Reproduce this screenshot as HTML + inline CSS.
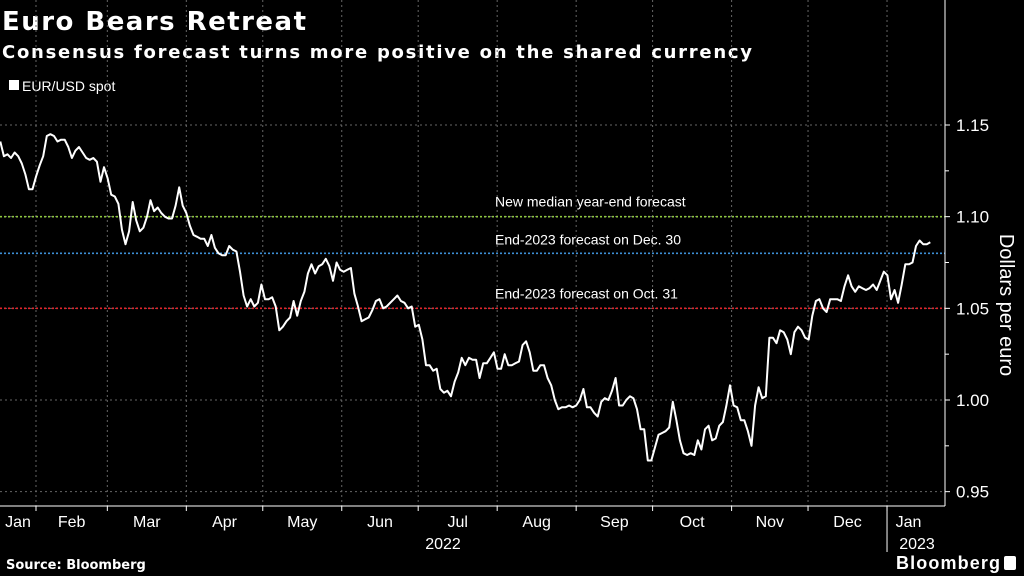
<!DOCTYPE html>
<html><head><meta charset="utf-8"><style>
html,body{margin:0;padding:0;background:#000;}
svg{display:block;font-family:"Liberation Sans",sans-serif;}
</style></head><body>
<svg id="chart" width="1024" height="576" viewBox="0 0 1024 576" xmlns="http://www.w3.org/2000/svg">
<rect x="0" y="0" width="1024" height="576" fill="#000"/>
<text x="2" y="30" fill="#fff" font-family="DejaVu Sans, sans-serif" font-weight="bold" font-size="26" textLength="304">Euro Bears Retreat</text>
<text x="2" y="58" fill="#fff" font-family="DejaVu Sans, sans-serif" font-weight="bold" font-size="18" textLength="750">Consensus forecast turns more positive on the shared currency</text>
<g>
<rect x="9" y="80" width="10" height="10" fill="#fff"/>
<text x="22" y="91" fill="#fff" font-size="14">EUR/USD spot</text>
</g>
<g id="grid"></g>
<g id="refs"></g>
<g id="series"></g>
<g id="axes"></g>
<text transform="translate(1000,305) rotate(90)" text-anchor="middle" fill="#fff" font-size="20">Dollars per euro</text>
<text x="6" y="569" fill="#fff" font-family="DejaVu Sans, sans-serif" font-weight="bold" font-size="13">Source: Bloomberg</text>
<text x="1000" y="569" text-anchor="end" fill="#fff" font-weight="bold" font-size="18" textLength="104">Bloomberg</text>
<rect x="1004" y="556" width="12" height="14" rx="2" fill="#fff"/>
</svg>
<script>
const values = [1.141,1.133,1.134,1.132,1.135,1.133,1.129,1.123,1.115,1.115,1.122,1.128,1.133,1.144,1.145,1.144,1.141,1.142,1.142,1.138,1.132,1.136,1.138,1.135,1.132,1.131,1.132,1.130,1.119,1.127,1.121,1.112,1.111,1.107,1.093,1.085,1.092,1.108,1.098,1.092,1.094,1.100,1.109,1.103,1.105,1.102,1.100,1.099,1.099,1.106,1.116,1.106,1.102,1.095,1.090,1.089,1.088,1.088,1.084,1.090,1.083,1.080,1.079,1.079,1.084,1.082,1.081,1.070,1.057,1.051,1.055,1.051,1.053,1.063,1.055,1.055,1.056,1.051,1.038,1.040,1.043,1.045,1.054,1.046,1.054,1.059,1.069,1.074,1.069,1.073,1.074,1.077,1.073,1.065,1.075,1.071,1.070,1.071,1.072,1.058,1.051,1.043,1.044,1.045,1.049,1.054,1.055,1.050,1.051,1.053,1.055,1.057,1.054,1.053,1.050,1.051,1.040,1.041,1.033,1.019,1.019,1.016,1.017,1.006,1.004,1.005,1.002,1.010,1.015,1.023,1.019,1.023,1.022,1.022,1.012,1.020,1.020,1.023,1.026,1.017,1.017,1.025,1.019,1.019,1.020,1.021,1.030,1.032,1.026,1.016,1.016,1.019,1.019,1.012,1.008,1.000,0.995,0.996,0.996,0.997,0.996,0.997,1.000,1.006,0.996,0.996,0.993,0.991,0.999,1.001,1.000,1.005,1.012,0.997,0.997,1.000,1.002,1.001,0.995,0.984,0.984,0.967,0.967,0.974,0.981,0.982,0.983,0.985,0.999,0.989,0.978,0.971,0.970,0.971,0.970,0.978,0.973,0.984,0.986,0.978,0.979,0.986,0.988,0.997,1.008,0.997,0.996,0.989,0.989,0.983,0.975,0.997,1.007,1.001,1.002,1.034,1.034,1.031,1.038,1.037,1.033,1.025,1.037,1.040,1.038,1.034,1.033,1.046,1.054,1.055,1.050,1.048,1.055,1.055,1.055,1.054,1.062,1.068,1.062,1.059,1.062,1.061,1.060,1.061,1.063,1.060,1.065,1.070,1.068,1.055,1.060,1.053,1.063,1.074,1.074,1.075,1.084,1.087,1.085,1.085,1.086];
const startDay = 17;   // days since Jan 1 2022
const endDay = 382;
const yTicks = [0.95, 1.00, 1.05, 1.10, 1.15];
const yTickLabels = ["0.95","1.00","1.05","1.10","1.15"];
const monthStarts = [0,31,59,90,120,151,181,212,243,273,304,334,365,396];
const monthLabels = ["Jan","Feb","Mar","Apr","May","Jun","Jul","Aug","Sep","Oct","Nov","Dec","Jan"];
const refValues = [1.10, 1.08, 1.05];
const refLabels = ["New median year-end forecast","End-2023 forecast on Dec. 30","End-2023 forecast on Oct. 31"];
const refColors = ["#8dc63f","#3d8fd6","#e3242b"];

const NS = "http://www.w3.org/2000/svg";
const PLOT_R = 945, PLOT_B = 506;
function xScale(day){ return -43 + day * 2.548; }
function yScale(v){ return 125 + (1.15 - v) * 1833.3; }
function mk(tag, attrs, parent){ const e=document.createElementNS(NS,tag); for(const k in attrs) e.setAttribute(k,attrs[k]); parent.appendChild(e); return e; }

const grid=document.getElementById('grid'), refs=document.getElementById('refs'), series=document.getElementById('series'), axes=document.getElementById('axes');

// vertical gridlines
for(let i=1;i<monthStarts.length-1;i++){
  const x=xScale(monthStarts[i]); if(x<0||x>PLOT_R) continue;
  const l=mk('line',{x1:x,x2:x,y1:0,y2:PLOT_B,stroke:'#666','stroke-width':1,'stroke-dasharray':'2,3'},grid);
  
  
}
// horizontal gridlines + y labels
yTicks.forEach((v,i)=>{
  const y=yScale(v);
  const l=mk('line',{x1:0,x2:PLOT_R,y1:y,y2:y,stroke:'#666','stroke-width':1,'stroke-dasharray':'2,3'},grid);
  
  
  const t=mk('line',{x1:PLOT_R,x2:PLOT_R+5,y1:y,y2:y,stroke:'#fff','stroke-width':1},axes);
  
  
  const lb=mk('text',{x:PLOT_R+11,y:y+6,fill:'#fff','font-size':17},axes);
  lb.textContent=yTickLabels[i];
  
  
  if(i<yTicks.length-1){
    const ym=yScale((v+yTicks[i+1])/2);
    const mt=mk('line',{x1:PLOT_R,x2:PLOT_R+4,y1:ym,y2:ym,stroke:'#fff','stroke-width':1},axes);
    
    
  }
});
// reference lines
refValues.forEach((v,i)=>{
  const y=yScale(v);
  const l=mk('line',{x1:0,x2:PLOT_R,y1:y,y2:y,stroke:refColors[i],'stroke-width':1.6,'stroke-dasharray':'2,2'},refs);
  
  
  const off=[-10,-9,-10][i];
  const t=mk('text',{x:495,y:y+off,fill:'#fff','font-size':14},refs);
  t.textContent=refLabels[i];
  
  
});
// series line
const n=values.length;
const pts=values.map((v,i)=>{const d=startDay+(endDay-startDay)*i/(n-1);return xScale(d).toFixed(1)+','+yScale(v).toFixed(1);});
const pl=mk('polyline',{points:pts.join(' '),fill:'none',stroke:'#fff','stroke-width':2,'stroke-linejoin':'round'},series);


// axes lines
const ya=mk('line',{x1:PLOT_R,x2:PLOT_R,y1:0,y2:PLOT_B,stroke:'#fff','stroke-width':1},axes);


const xa=mk('line',{x1:0,x2:PLOT_R,y1:PLOT_B,y2:PLOT_B,stroke:'#fff','stroke-width':1},axes);


// month ticks and labels
for(let i=0;i<monthLabels.length;i++){
  const xs=xScale(monthStarts[i]);
  if(xs>=0&&xs<=PLOT_R){
    const t=mk('line',{x1:xs,x2:xs,y1:PLOT_B,y2:PLOT_B+5,stroke:'#fff','stroke-width':1},axes);
    
    
  }
  let a=Math.max(0,xs), b=Math.min(930,xScale(monthStarts[i+1]));
  const cx=(a+b)/2;
  const lb=mk('text',{x:cx,y:527,fill:'#fff','font-size':16,'text-anchor':'middle'},axes);
  lb.textContent=monthLabels[i];
  
  
}
const sep=xScale(365);
const sl=mk('line',{x1:sep,x2:sep,y1:PLOT_B,y2:552,stroke:'#fff','stroke-width':1},axes);


const y1=mk('text',{x:443,y:549,fill:'#fff','font-size':16,'text-anchor':'middle'},axes);
y1.textContent='2022';


const y2=mk('text',{x:917,y:549,fill:'#fff','font-size':16,'text-anchor':'middle'},axes);
y2.textContent='2023';


</script>
</body></html>
